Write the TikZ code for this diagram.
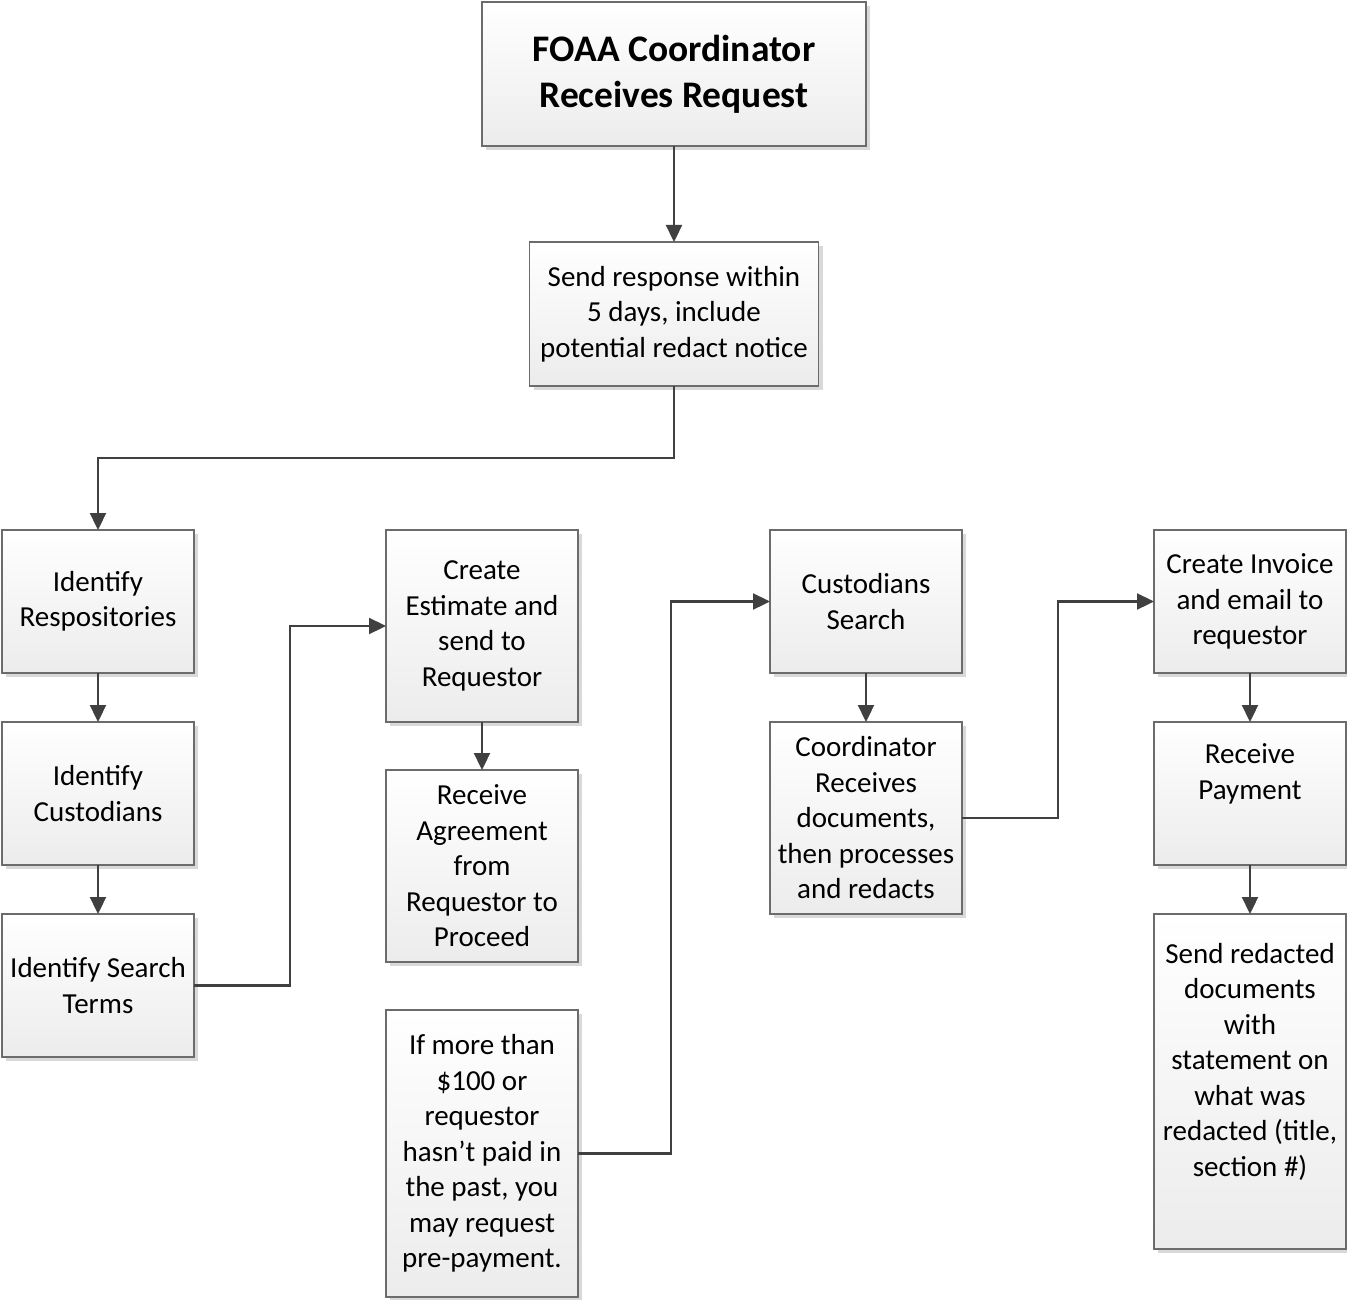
\documentclass[tikz,border=0pt]{standalone}
\usepackage{fontspec}
\setmainfont{Carlito}
\usetikzlibrary{arrows.meta,shadows}
\begin{document}
\begin{tikzpicture}[x=1pt,y=-1pt,
  box/.style={draw=gray!85!black, line width=1.3pt, top color=white, bottom color=gray!15,
    shading angle=0, align=center, inner sep=0pt, outer sep=0pt,
    drop shadow={shadow xshift=4pt, shadow yshift=-4pt, fill=gray!30, opacity=1},
    font=\fontsize{29}{35.5}\selectfont, minimum width=192pt},
  conn/.style={draw=black!75, line width=2.3pt, -{Triangle[length=17pt,width=16pt]}}
]
\useasboundingbox (0,0) rectangle (1347,1300);

% top of the process
\node[box, minimum width=384pt, minimum height=144pt,
      font=\bfseries\fontsize{37.5}{46}\selectfont] (recv) at (674,74)
  {FOAA Coordinator\\Receives Request};
\node[box, minimum width=289pt, minimum height=144pt] (send) at (674,314)
  {Send response within\\5 days, include\\potential redact notice};

% first column
\node[box, minimum height=143pt] (repo) at (98,601.5) {Identify\\Respositories};
\node[box, minimum height=143pt] (cust) at (98,793.5) {Identify\\Custodians};
\node[box, minimum height=143pt] (terms) at (98,985.5) {Identify Search\\Terms};

% second column
\node[box, minimum height=192pt] (est) at (482,626) {Create\\Estimate and\\send to\\Requestor};
\node[box, minimum height=192pt] (agree) at (482,866) {Receive\\Agreement\\from\\Requestor to\\Proceed};
\node[box, minimum height=287pt] (prepay) at (482,1153.5)
  {If more than\\\$100 or\\requestor\\hasn’t paid in\\the past, you\\may request\\pre-payment.};

% third column
\node[box, minimum height=143pt] (csearch) at (866,601.5) {Custodians\\Search};
\node[box, minimum height=192pt] (proc) at (866,818)
  {Coordinator\\Receives\\documents,\\then processes\\and redacts};

% fourth column
\node[box, minimum height=143pt] (inv) at (1250,601.5) {Create Invoice\\and email to\\requestor};
\node[box, minimum height=143pt] (pay) at (1250,793.5) {Receive\\Payment\\[8pt]~};
\node[box, minimum height=335pt] (deliver) at (1250,1081.5)
  {Send redacted\\documents\\with\\statement on\\what was\\redacted (title,\\section \#)\\[8pt]~};

% connectors
\draw[conn] (recv.south) -- (send.north);
\draw[conn] (send.south) -- ++(0,72) -| (repo.north);
\draw[conn] (repo.south) -- (cust.north);
\draw[conn] (cust.south) -- (terms.north);
\draw[conn] (terms.east) -- ++(96,0) |- (est.west);
\draw[conn] (est.south) -- (agree.north);
\draw[conn] (prepay.east) -- ++(93,0) |- (csearch.west);
\draw[conn] (csearch.south) -- (proc.north);
\draw[conn] (proc.east) -- ++(96,0) |- (inv.west);
\draw[conn] (inv.south) -- (pay.north);
\draw[conn] (pay.south) -- (deliver.north);
\end{tikzpicture}
\end{document}
